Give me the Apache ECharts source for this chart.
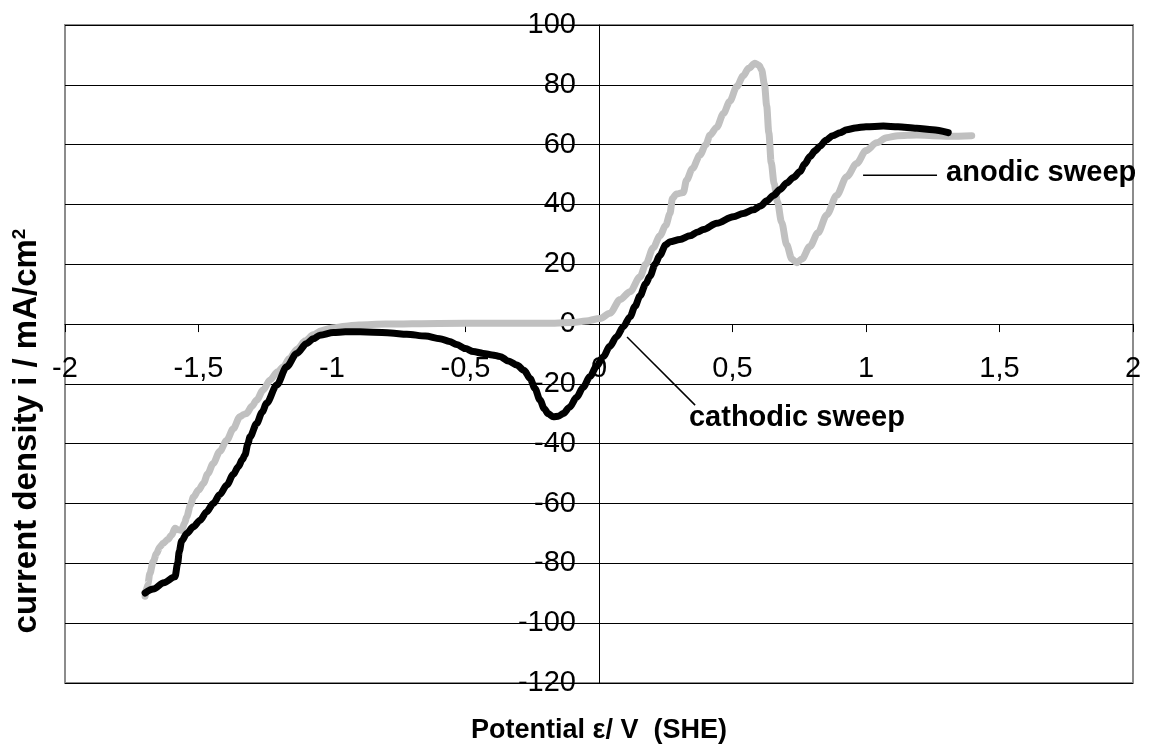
<!DOCTYPE html>
<html>
<head>
<meta charset="utf-8">
<script src="https://cdn.jsdelivr.net/npm/echarts/dist/echarts.min.js"></script>
<style>
html,body{margin:0;padding:0;background:#fff;}
#chart{width:1149px;height:744px;}
</style>
</head>
<body>
<div id="chart"></div>
<script>
const FONT = '"Liberation Sans", Arial, sans-serif';

// Tick values
const xTickValues = [-2, -1.5, -1, -0.5, 0, 0.5, 1, 1.5, 2];
const yTickValues = [-120, -100, -80, -60, -40, -20, 0, 20, 40, 60, 80, 100];

// Anodic sweep (grey)
const anodicPotential = [
  -1.700, -1.690, -1.682, -1.670, -1.657, -1.645, -1.632, -1.615, -1.601, -1.588,
  -1.575, -1.563, -1.552, -1.544, -1.530, -1.519, -1.500, -1.482, -1.465, -1.445,
  -1.420, -1.394, -1.370, -1.345, -1.330, -1.320, -1.300, -1.282, -1.258, -1.232,
  -1.205, -1.182, -1.160, -1.130, -1.100, -1.070, -1.040, -1.000, -0.950, -0.900,
  -0.800, -0.600, -0.400, -0.200, -0.100, -0.050, 0.004, 0.041, 0.079, 0.116,
  0.154, 0.175, 0.203, 0.228, 0.250, 0.266, 0.275, 0.290, 0.316, 0.328,
  0.350, 0.378, 0.400, 0.416, 0.441, 0.466, 0.490, 0.516, 0.540, 0.560,
  0.584, 0.600, 0.609, 0.620, 0.628, 0.636, 0.645, 0.656, 0.668, 0.684,
  0.703, 0.722, 0.740, 0.760, 0.790, 0.820, 0.853, 0.890, 0.928, 0.965,
  1.000, 1.040, 1.077, 1.120, 1.190, 1.250, 1.315, 1.396
];
const anodicCurrent = [
  -91.0, -87.0, -83.4, -79.5, -76.7, -74.5, -73.3, -72.0, -70.6, -68.3,
  -68.8, -68.9, -66.5, -64.4, -60.5, -57.8, -55.5, -53.3, -50.0, -46.6,
  -42.5, -38.8, -35.0, -31.0, -30.2, -29.9, -27.5, -25.4, -22.0, -18.7,
  -16.0, -14.3, -11.5, -8.3, -5.6, -3.6, -2.2, -1.3, -0.7, -0.3,
  0.0, 0.2, 0.3, 0.3, 0.5, 1.0, 1.9, 3.6, 8.2, 10.8,
  15.8, 20.0, 25.5, 29.5, 33.0, 37.0, 42.0, 43.5, 44.0, 48.2,
  52.0, 56.5, 60.0, 63.2, 65.8, 70.4, 74.5, 79.4, 83.0, 85.5,
  87.2, 86.5, 85.0, 80.0, 73.0, 64.0, 54.0, 47.0, 41.0, 34.0,
  26.5, 21.8, 20.5, 21.8, 26.0, 30.5, 36.5, 43.0, 49.3, 53.7,
  58.0, 60.6, 62.3, 63.0, 63.2, 63.0, 62.8, 63.0
];

// Cathodic sweep (black)
const cathodicPotential = [
  -1.700, -1.669, -1.630, -1.588, -1.578, -1.572, -1.563, -1.544, -1.520, -1.494,
  -1.470, -1.445, -1.420, -1.394, -1.370, -1.351, -1.336, -1.326, -1.315, -1.307,
  -1.282, -1.262, -1.245, -1.207, -1.170, -1.132, -1.095, -1.070, -1.045, -0.995,
  -0.950, -0.895, -0.845, -0.780, -0.720, -0.650, -0.596, -0.560, -0.533, -0.500,
  -0.471, -0.433, -0.400, -0.371, -0.340, -0.308, -0.280, -0.258, -0.240, -0.221,
  -0.205, -0.190, -0.171, -0.152, -0.134, -0.110, -0.084, -0.060, -0.034, -0.010,
  0.016, 0.040, 0.066, 0.091, 0.116, 0.135, 0.154, 0.175, 0.191, 0.210,
  0.228, 0.250, 0.266, 0.303, 0.341, 0.370, 0.391, 0.441, 0.503, 0.540,
  0.578, 0.605, 0.628, 0.653, 0.678, 0.703, 0.728, 0.753, 0.770, 0.790,
  0.810, 0.828, 0.850, 0.875, 0.903, 0.928, 0.960, 1.000, 1.065, 1.120,
  1.190, 1.250, 1.308
];
const cathodicCurrent = [
  -89.9, -88.6, -86.5, -84.5, -80.0, -76.0, -72.5, -70.0, -67.8, -65.6,
  -62.8, -60.0, -57.0, -53.8, -50.3, -47.7, -45.3, -43.8, -40.0, -37.7,
  -33.2, -29.5, -26.5, -20.4, -14.3, -9.8, -6.5, -4.9, -3.7, -2.8,
  -2.6, -2.6, -2.7, -3.0, -3.4, -4.0, -4.9, -5.8, -6.8, -8.2,
  -9.2, -9.8, -10.3, -10.8, -12.3, -13.7, -15.5, -18.2, -21.5, -25.4,
  -28.3, -30.0, -31.0, -30.8, -29.9, -27.8, -24.5, -21.2, -17.6, -14.2,
  -10.9, -7.5, -4.2, -0.9, 2.4, 6.0, 9.5, 13.5, 16.0, 20.0,
  23.0, 26.5, 27.5, 28.3, 29.5, 30.8, 31.6, 33.7, 35.9, 37.0,
  38.2, 39.5, 41.2, 43.0, 45.0, 47.2, 49.0, 51.0, 53.5, 56.0,
  58.0, 59.5, 61.5, 63.0, 64.0, 65.0, 65.6, 66.0, 66.2, 66.0,
  65.5, 65.0, 64.0
];

// Annotation leader lines (data coordinates) and text anchors
const anodicLeaderX = [0.989, 1.266];
const anodicLeaderY = [49.8, 49.8];
const cathodicLeaderX = [0.105, 0.360];
const cathodicLeaderY = [-4.3, -27.1];
const anodicLabel = 'anodic sweep';
const cathodicLabel = 'cathodic sweep';
const anodicLabelAt = [1.300, 50.6];
const cathodicLabelAt = [0.337, -31.4];

const xTitle = 'Potential \u03b5/ V  (SHE)';
const yTitle = 'current density i / mA/cm';

function pairs(xs, ys) { return xs.map((x, i) => [x, ys[i]]); }
const fmt = v => String(v).replace('.', ',');

const chart = echarts.init(document.getElementById('chart'), null, { renderer: 'canvas' });

const G = { left: 65, right: 16, top: 25, bottom: 61 };
const W = 1149, H = 744;
// offsets moving each axis from the grid edge to the zero crossing of the other axis
const yMin = yTickValues[0], yMax = yTickValues[yTickValues.length - 1];
const xMin = xTickValues[0], xMax = xTickValues[xTickValues.length - 1];
const plotH = H - G.top - G.bottom, plotW = W - G.left - G.right;
const xAxisOffset = -plotH * (0 - yMin) / (yMax - yMin);
const yAxisOffset = -plotW * (0 - xMin) / (xMax - xMin);

const option = {
  animation: false,
  backgroundColor: '#ffffff',
  textStyle: { fontFamily: FONT, color: '#000' },
  grid: Object.assign({
    containLabel: false, outerBoundsMode: 'none',
    show: true, borderColor: '#8c8c8c', borderWidth: 2, backgroundColor: 'transparent'
  }, G),
  xAxis: {
    type: 'value', position: 'bottom', offset: xAxisOffset,
    min: xMin, max: xMax,
    interval: xTickValues[1] - xTickValues[0],
    axisLine: { show: true, onZero: false, lineStyle: { color: '#000', width: 1 } },
    axisTick: { show: true, length: 8, lineStyle: { color: '#000', width: 1 } },
    axisLabel: {
      show: true, margin: 30, fontSize: 29, color: '#000', fontFamily: FONT,
      formatter: fmt, showMinLabel: true, showMaxLabel: true, hideOverlap: false
    },
    splitLine: { show: false },
    name: xTitle, nameLocation: 'middle', nameGap: 393,
    nameTextStyle: { fontSize: 27, fontWeight: 'bold', color: '#000', fontFamily: FONT }
  },
  yAxis: {
    type: 'value', position: 'left', offset: yAxisOffset,
    min: yMin, max: yMax,
    interval: yTickValues[1] - yTickValues[0],
    axisLine: { show: true, onZero: false, lineStyle: { color: '#000', width: 1 } },
    axisTick: { show: true, length: 9, lineStyle: { color: '#000', width: 1 } },
    axisLabel: {
      show: true, margin: 23, fontSize: 29, color: '#000', fontFamily: FONT,
      formatter: fmt, showMinLabel: true, showMaxLabel: true, hideOverlap: false
    },
    splitLine: { show: true, lineStyle: { color: '#000', width: 1 } }
  },
  series: [
    {
      name: 'anodic sweep', type: 'line', data: pairs(anodicPotential, anodicCurrent),
      showSymbol: false, symbol: 'none', smooth: 0.3, smoothMonotone: 'x',
      lineStyle: { color: '#c0c0c0', width: 7, cap: 'round', join: 'round' },
      z: 3, silent: true
    },
    {
      name: 'cathodic sweep', type: 'line', data: pairs(cathodicPotential, cathodicCurrent),
      showSymbol: false, symbol: 'none', smooth: 0.3, smoothMonotone: 'x',
      lineStyle: { color: '#000000', width: 7, cap: 'round', join: 'round' },
      z: 4, silent: true
    },
    {
      name: 'anodic leader', type: 'line', data: pairs(anodicLeaderX, anodicLeaderY),
      showSymbol: false, symbol: 'none',
      lineStyle: { color: '#000', width: 1.5 }, z: 5, silent: true
    },
    {
      name: 'cathodic leader', type: 'line', data: pairs(cathodicLeaderX, cathodicLeaderY),
      showSymbol: false, symbol: 'none',
      lineStyle: { color: '#000', width: 1.5 }, z: 5, silent: true
    }
  ]
};
chart.setOption(option);

const pA = chart.convertToPixel({ xAxisIndex: 0, yAxisIndex: 0 }, anodicLabelAt);
const pC = chart.convertToPixel({ xAxisIndex: 0, yAxisIndex: 0 }, cathodicLabelAt);
const annStyle = { fontSize: 29, fontWeight: 'bold', fill: '#000', fontFamily: FONT, align: 'left', verticalAlign: 'middle' };

chart.setOption({
  graphic: [
    { type: 'text', x: pA[0], y: pA[1], z: 10, style: Object.assign({ text: anodicLabel }, annStyle) },
    { type: 'text', x: pC[0], y: pC[1], z: 10, style: Object.assign({ text: cathodicLabel }, annStyle) },
    {
      type: 'text', x: 27, y: 431, rotation: Math.PI / 2, z: 10,
      style: {
        text: yTitle + '{sup|2}',
        fontSize: 33, fontWeight: 'bold', fill: '#000', fontFamily: FONT,
        align: 'center', verticalAlign: 'middle',
        rich: { sup: { fontSize: 19, fontWeight: 'bold', fill: '#000', fontFamily: FONT, verticalAlign: 'top' } }
      }
    }
  ]
});
</script>
</body>
</html>
